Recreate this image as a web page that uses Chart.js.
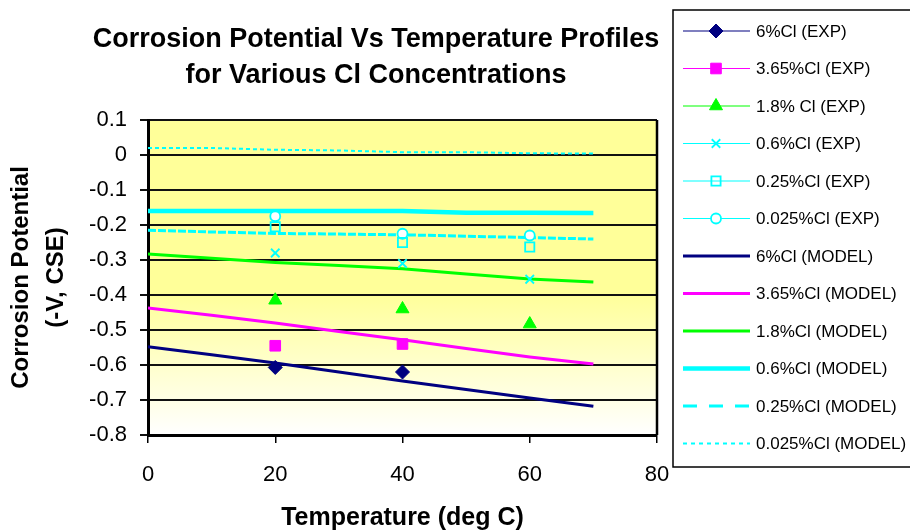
<!DOCTYPE html>
<html>
<head>
<meta charset="utf-8">
<script src="https://cdn.jsdelivr.net/npm/chart.js@4.4.0/dist/chart.umd.min.js"></script>
<style>
  html, body { margin: 0; padding: 0; background: #fff; }
  #wrap { width: 910px; height: 531px; position: relative; }
</style>
</head>
<body>
<div id="wrap"><canvas id="chart"></canvas></div>
<script>
// measured points (EXP) at 20, 40, 60 deg C
const expTemps = [20, 40, 60];
const exp6 = [-0.607, -0.62, null];
const exp365 = [-0.545, -0.54, null];
const exp18 = [-0.415, -0.44, -0.483];
const exp06 = [-0.28, -0.31, -0.355];
const exp025 = [-0.205, -0.25, -0.263];
const exp0025 = [-0.175, -0.225, -0.23];

// model curves
const modelTemps = [0, 10, 20, 30, 40, 50, 60, 70];
const model6 = [-0.548, -0.571, -0.594, -0.62, -0.646, -0.67, -0.694, -0.718];
const model365 = [-0.437, -0.458, -0.48, -0.504, -0.528, -0.553, -0.577, -0.597];
const model18 = [-0.283, -0.295, -0.307, -0.316, -0.325, -0.34, -0.354, -0.363];
const model06 = [-0.16, -0.16, -0.16, -0.16, -0.16, -0.165, -0.165, -0.166];
const model025 = [-0.215, -0.22, -0.224, -0.226, -0.228, -0.232, -0.236, -0.24];
const model0025 = [0.02, 0.02, 0.015, 0.013, 0.008, 0.008, 0.005, 0.004];

const xTicks = [0, 20, 40, 60, 80];
const yTicks = [0.1, 0, -0.1, -0.2, -0.3, -0.4, -0.5, -0.6, -0.7, -0.8];

const navy = "#000080";
const magenta = "#FF00FF";
const green = "#00FF00";
const cyan = "#00FFFF";
const fontFamily = "Arial, 'Liberation Sans', sans-serif";

function pairs(xs, ys) {
  return xs.map((x, i) => ({ x: x, y: ys[i] })).filter(p => p.y !== null);
}

function expSet(label, ys, color, style, radius, fill) {
  return {
    label: label,
    data: pairs(expTemps, ys),
    showLine: false,
    pointStyle: style,
    pointRadius: radius,
    pointHoverRadius: radius,
    pointBorderWidth: fill ? 1 : 1.8,
    borderColor: color,
    pointBorderColor: color,
    pointBackgroundColor: fill ? color : (style === "circle" ? "#fff" : "rgba(0,0,0,0)"),
    isExp: true
  };
}

function modelSet(label, ys, color, width, dash, legendDash) {
  return {
    label: label,
    data: pairs(modelTemps, ys),
    showLine: true,
    borderColor: color,
    borderWidth: width,
    borderDash: dash,
    legendDash: legendDash,
    pointRadius: 0,
    pointHoverRadius: 0,
    tension: 0,
    isExp: false
  };
}

const datasets = [
  expSet("6%Cl (EXP)", exp6, navy, "rectRot", 7, true),
  expSet("3.65%Cl (EXP)", exp365, magenta, "rect", 7.5, true),
  expSet("1.8% Cl (EXP)", exp18, green, "triangle", 7.5, true),
  expSet("0.6%Cl (EXP)", exp06, cyan, "crossRot", 6, false),
  expSet("0.25%Cl (EXP)", exp025, cyan, "rect", 6.5, false),
  expSet("0.025%Cl (EXP)", exp0025, cyan, "circle", 5, false),
  modelSet("6%Cl (MODEL)", model6, navy, 3, [], []),
  modelSet("3.65%Cl (MODEL)", model365, magenta, 3, [], []),
  modelSet("1.8%Cl (MODEL)", model18, green, 3, [], []),
  modelSet("0.6%Cl (MODEL)", model06, cyan, 4.5, [], []),
  modelSet("0.25%Cl (MODEL)", model025, cyan, 3, [8, 2], [14, 12]),
  modelSet("0.025%Cl (MODEL)", model0025, cyan, 2, [4, 3], [4, 4])
];

const plotBackground = {
  id: "plotBackground",
  beforeDraw(chart) {
    const { ctx, chartArea: a } = chart;
    const g = ctx.createLinearGradient(0, a.top, 0, a.bottom);
    g.addColorStop(0, "#FFFF99");
    g.addColorStop(0.55, "#FFFF99");
    g.addColorStop(1, "#FFFFFF");
    ctx.save();
    ctx.fillStyle = g;
    ctx.fillRect(a.left, a.top, a.right - a.left, a.bottom - a.top);
    ctx.restore();
  },
  afterDraw(chart) {
    const { ctx, chartArea: a } = chart;
    ctx.save();
    ctx.strokeStyle = "#000";
    ctx.lineWidth = 2.5;
    ctx.beginPath();
    ctx.moveTo(a.right, a.top);
    ctx.lineTo(a.right, a.bottom);
    ctx.stroke();
    ctx.restore();
  }
};

const titleText = {
  id: "titleText",
  afterDraw(chart) {
    const ctx = chart.ctx;
    ctx.save();
    ctx.fillStyle = "#000";
    ctx.font = "bold 27px " + fontFamily;
    ctx.textAlign = "center";
    ctx.textBaseline = "alphabetic";
    ctx.fillText("Corrosion Potential Vs Temperature Profiles", 376, 47);
    ctx.fillText("for Various Cl Concentrations", 376, 83);
    ctx.restore();
  }
};

const boxLegend = {
  id: "boxLegend",
  afterDraw(chart) {
    const ctx = chart.ctx;
    const left = 673, top = 10, bottom = 467;
    ctx.save();
    ctx.fillStyle = "#fff";
    ctx.fillRect(left, top, 910 - left + 5, bottom - top);
    ctx.strokeStyle = "#000";
    ctx.lineWidth = 1.5;
    ctx.strokeRect(left, top, 910 - left + 5, bottom - top);
    ctx.font = "17px " + fontFamily;
    ctx.textBaseline = "middle";
    ctx.textAlign = "left";
    chart.data.datasets.forEach((ds, i) => {
      const y = 31 + i * 37.5;
      ctx.save();
      ctx.strokeStyle = ds.borderColor;
      if (ds.isExp) {
        ctx.lineWidth = 1.2;
        ctx.setLineDash([]);
      } else {
        ctx.lineWidth = ds.borderWidth;
        ctx.setLineDash(ds.legendDash);
      }
      ctx.beginPath();
      ctx.moveTo(683, y);
      ctx.lineTo(750, y);
      ctx.stroke();
      if (ds.isExp) {
        ctx.setLineDash([]);
        ctx.fillStyle = ds.pointBackgroundColor;
        ctx.strokeStyle = ds.pointBorderColor;
        ctx.lineWidth = ds.pointBorderWidth;
        Chart.helpers.drawPoint(ctx, {
          pointStyle: ds.pointStyle,
          radius: ds.pointRadius,
          borderWidth: ds.pointBorderWidth,
          rotation: 0
        }, 716, y);
      }
      ctx.restore();
      ctx.fillStyle = "#000";
      ctx.fillText(ds.label, 756, y + 1);
    });
    ctx.restore();
  }
};

const ctx = document.getElementById("chart").getContext("2d");
new Chart(ctx, {
  type: "scatter",
  data: { datasets: datasets },
  options: {
    responsive: true,
    maintainAspectRatio: false,
    animation: false,
    layout: { padding: { top: 120, right: 253, left: 0, bottom: 0 } },
    plugins: {
      legend: { display: false },
      tooltip: { enabled: false }
    },
    scales: {
      x: {
        type: "linear",
        min: 0,
        max: 80,
        afterFit(scale) { scale.height = 96; },
        afterBuildTicks(scale) { scale.ticks = xTicks.map(v => ({ value: v })); },
        ticks: {
          color: "#000",
          padding: 19,
          font: { family: fontFamily, size: 22 }
        },
        grid: {
          drawOnChartArea: false,
          drawTicks: true,
          tickLength: 8,
          color: "#000",
          lineWidth: 1.5
        },
        border: { display: true, color: "#000", width: 3 },
        title: {
          display: true,
          text: "Temperature (deg C)",
          color: "#000",
          font: { family: fontFamily, size: 25, weight: "bold", lineHeight: 1 },
          padding: { top: 0, bottom: 0 }
        }
      },
      y: {
        type: "linear",
        min: -0.8,
        max: 0.1,
        afterFit(scale) { scale.width = 148; },
        afterBuildTicks(scale) { scale.ticks = yTicks.map(v => ({ value: v })); },
        ticks: {
          color: "#000",
          padding: 13,
          font: { family: fontFamily, size: 22 },
          callback: v => String(Math.round(v * 10) / 10)
        },
        grid: {
          drawTicks: true,
          tickLength: 8,
          color: "#111",
          lineWidth: 2
        },
        border: { display: true, color: "#000", width: 3 },
        title: {
          display: true,
          text: ["Corrosion Potential", "(-V, CSE)"],
          color: "#000",
          font: { family: fontFamily, size: 24, weight: "bold", lineHeight: 1.46 },
          padding: { top: 4, bottom: 0 }
        }
      }
    }
  },
  plugins: [plotBackground, titleText, boxLegend]
});
</script>
</body>
</html>
